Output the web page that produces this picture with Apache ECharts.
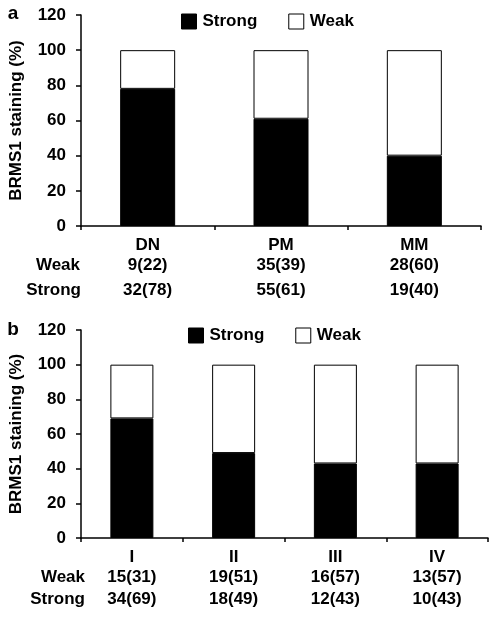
<!DOCTYPE html>
<html>
<head>
<meta charset="utf-8">
<script src="https://cdn.jsdelivr.net/npm/echarts@6/dist/echarts.min.js"></script>
<style>
html,body{margin:0;padding:0;background:#fff;}
#c{width:497px;height:617px;}
</style>
</head>
<body>
<div id="c"></div>
<script>
// Panel a
var categoriesA = ['DN', 'PM', 'MM'];
var strongA = [78, 61, 40];
var weakA = [22, 39, 60];
var weakCountsA = ['9(22)', '35(39)', '28(60)'];
var strongCountsA = ['32(78)', '55(61)', '19(40)'];
// Panel b
var categoriesB = ['I', 'II', 'III', 'IV'];
var strongB = [69, 49, 43, 43];
var weakB = [31, 51, 57, 57];
var weakCountsB = ['15(31)', '19(51)', '16(57)', '13(57)'];
var strongCountsB = ['34(69)', '18(49)', '12(43)', '10(43)'];
var yTicks = [0, 20, 40, 60, 80, 100, 120];

var FONT = 'Liberation Sans, Arial, sans-serif';
var chart = echarts.init(document.getElementById('c'));

function mkX(idx, cats, wk, st, lastLH) {
  return {
    type: 'category', gridIndex: idx, data: cats,
    axisLine: {lineStyle: {color: '#000', width: 1.5}},
    axisTick: {show: true, length: 4, lineStyle: {color: '#000', width: 1.5}},
    axisLabel: {
      interval: 0, margin: 9, color: '#000',
      formatter: function (v, i) {
        return '{c|' + v + '}\n{w|' + wk[i] + '}\n{s|' + st[i] + '}';
      },
      rich: {
        c: {fontFamily: FONT, fontWeight: 'bold', fontSize: 17, lineHeight: 20, color: '#000'},
        w: {fontFamily: FONT, fontWeight: 'bold', fontSize: 17, lineHeight: 20, color: '#000'},
        s: {fontFamily: FONT, fontWeight: 'bold', fontSize: 17, lineHeight: lastLH, color: '#000'}
      }
    }
  };
}
function mkY(idx) {
  return {
    type: 'value', gridIndex: idx, min: yTicks[0], max: yTicks[yTicks.length - 1], interval: 20,
    name: 'BRMS1 staining (%)', nameLocation: 'middle', nameGap: 56,
    nameTextStyle: {fontFamily: FONT, fontWeight: 'bold', fontSize: 17, color: '#000'},
    splitLine: {show: false},
    axisLine: {show: true, lineStyle: {color: '#000', width: 1.5}},
    axisTick: {show: true, length: 5, lineStyle: {color: '#000', width: 1.5}},
    axisLabel: {margin: 15, fontFamily: FONT, fontWeight: 'bold', fontSize: 17, color: '#000'}
  };
}
function mkSeries(name, idx, data, color, bw) {
  return {
    name: name, type: 'bar', stack: 's' + idx, xAxisIndex: idx, yAxisIndex: idx,
    data: data, barWidth: bw,
    itemStyle: {color: color, borderColor: '#000', borderWidth: 1},
    emphasis: {disabled: true}
  };
}
function rowLabel(txt, x, y) {
  return {type: 'text', x: x, y: y,
    style: {text: txt, fontFamily: FONT, fontWeight: 'bold', fontSize: 17, fill: '#000',
      textAlign: 'right', textVerticalAlign: 'middle'}};
}
function panelLabel(txt, x, y) {
  return {type: 'text', x: x, y: y,
    style: {text: txt, fontFamily: FONT, fontWeight: 'bold', fontSize: 19, fill: '#000',
      textAlign: 'center', textVerticalAlign: 'middle'}};
}
var legendCommon = {
  data: ['Strong', 'Weak'], icon: 'rect', itemWidth: 15, itemHeight: 15, itemGap: 31,
  itemStyle: {borderColor: '#000', borderWidth: 1},
  textStyle: {fontFamily: FONT, fontWeight: 'bold', fontSize: 17, color: '#000', padding: [0, 0, 0, 1]},
  selectedMode: false
};

chart.setOption({
  animation: false,
  backgroundColor: '#fff',
  grid: [
    {left: 80, right: 16, top: 15, height: 211},
    {left: 79, right: 9, top: 330, height: 208}
  ],
  legend: [
    Object.assign({left: 176, top: 8}, legendCommon),
    Object.assign({left: 183, top: 322}, legendCommon)
  ],
  xAxis: [mkX(0, categoriesA, weakCountsA, strongCountsA, 30), mkX(1, categoriesB, weakCountsB, strongCountsB, 24)],
  yAxis: [mkY(0), mkY(1)],
  series: [
    mkSeries('Strong', 0, strongA, '#000', 55),
    mkSeries('Weak', 0, weakA, '#fff', 55),
    mkSeries('Strong', 1, strongB, '#000', 43),
    mkSeries('Weak', 1, weakB, '#fff', 43)
  ],
  graphic: [
    panelLabel('a', 13, 14),
    panelLabel('b', 13, 330),
    rowLabel('Weak', 80, 265),
    rowLabel('Strong', 81, 290),
    rowLabel('Weak', 85, 577),
    rowLabel('Strong', 85, 599)
  ]
});
</script>
</body>
</html>
